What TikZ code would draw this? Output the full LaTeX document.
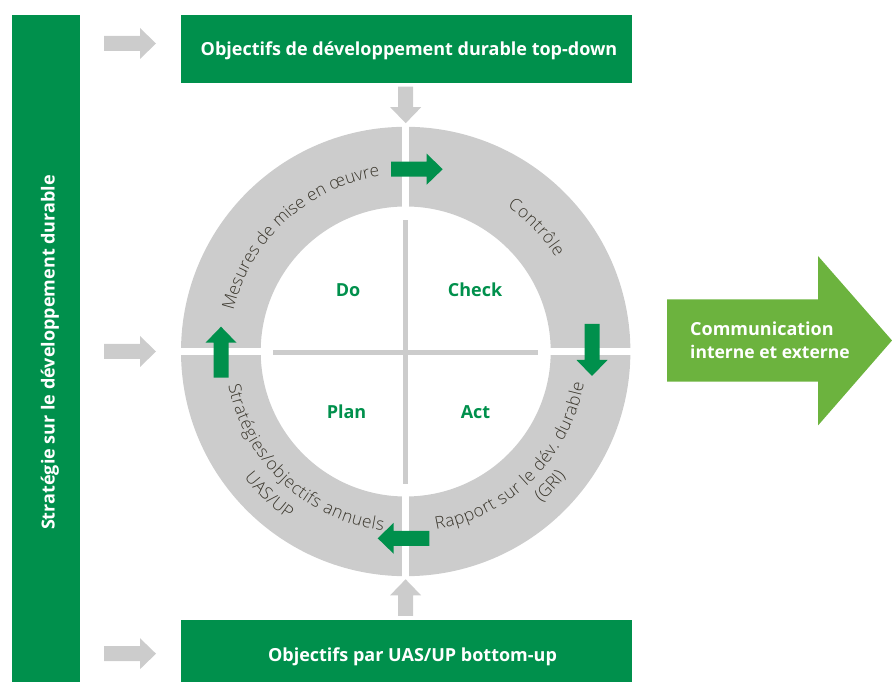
\documentclass[tikz,border=0pt]{standalone}
\usepackage{fontspec}
\setmainfont{Open Sans}
\newfontfamily\curvef{Open Sans Light}
\usetikzlibrary{decorations.text}
\definecolor{mygreen}{RGB}{0,144,76}
\definecolor{ligreen}{RGB}{108,179,62}
\definecolor{mygrey}{RGB}{204,204,204}
\definecolor{curvetxt}{RGB}{58,54,44}
\newcommand\curvefont{\curvef\fontsize{17.2}{18}\selectfont\color{curvetxt}}
\newcommand\boldlab{\fontsize{18}{20}\selectfont\bfseries}
\tikzset{
  box/.style={fill=mygreen,inner sep=0pt,text=white,font=\boldlab},
  whitelab/.style={text=white,font=\boldlab,inner sep=0pt,anchor=base},
  quadlab/.style={text=mygreen,font=\boldlab,inner sep=0pt,anchor=base},
  curved/.style={decorate,decoration={text along path,text={|\curvefont|#1},text align={fit to path}}},
  curvedl/.style={decorate,decoration={text along path,text={|\curvefont|#1},text align={left}}},
  pics/blockarrow/.style={code={
    \fill[pic actions] (0,7.5)--(#1-16,7.5)--(#1-16,15.5)--(#1,0)--(#1-16,-15.5)--(#1-16,-7.5)--(0,-7.5)--cycle;}},
}
\begin{document}
\begin{tikzpicture}[x=1pt,y=1pt]
\useasboundingbox (0,0) rectangle (892,682);
% bars and boxes
\node[box,minimum width=68pt,minimum height=667pt] (strategy) at (46,333.5) {};
\node[whitelab,rotate=90] (strategytext) at (54.7,329.5) {Stratégie sur le développement durable};
\node[box,minimum width=451pt,minimum height=68pt] (top) at (406.5,633) {};
\node[whitelab] (toptext) at (409,626.3) {Objectifs de développement durable top-down};
\node[box,minimum width=451pt,minimum height=62pt] (bottom) at (406,31) {};
\node[whitelab] (bottomtext) at (412.5,20.5) {Objectifs par UAS/UP bottom-up};
% ring
\fill[mygrey,even odd rule] (405.7,330.5) circle[radius=224.7pt] (405.7,330.5) circle[radius=145pt];
\fill[white] (401.7,100) rectangle (409.3,560);
\fill[white] (175,327) rectangle (640,334.3);
% cross
\fill[mygrey] (403.3,198) rectangle (407.7,462);
\fill[mygrey] (273,327.4) rectangle (538,332);
% quadrant labels
\node[quadlab] (do) at (348,385.5) {Do};
\node[quadlab] (check) at (475,385.5) {Check};
\node[quadlab] (plan) at (346.5,263.5) {Plan};
\node[quadlab] (act) at (475.5,263.5) {Act};
% curved labels
\path[curvedl={Mesures de mise en {\oe}uvre}] (405.7,330.5)++(166.6:177pt) arc[start angle=166.6,end angle=60,radius=177pt];
\path[curved={Contrôle}] (405.7,330.5)++(55:177pt) arc[start angle=55,end angle=32,radius=177pt];
\path[curved={Rapport sur le dév. durable}] (405.7,330.5)++(-80.3:181pt) arc[start angle=-80.3,end angle=-10.2,radius=181pt];
\path[curved={(GRI)}] (405.7,330.5)++(-48.2:203pt) arc[start angle=-48.2,end angle=-38,radius=203pt];
\path[curved={Stratégies/objectifs annuels}] (405.7,330.5)++(190.7:180.5pt) arc[start angle=190.7,end angle=262.8,radius=180.5pt];
\path[curved={UAS/UP}] (405.7,330.5)++(218:205pt) arc[start angle=218,end angle=235,radius=205pt];
% grey arrows
\pic[fill=mygrey] at (104,638.5) {blockarrow=52};
\pic[fill=mygrey] at (104,330.5) {blockarrow=52};
\pic[fill=mygrey] at (104,28.3) {blockarrow=52};
\pic[fill=mygrey,rotate=-90] at (405.7,595.3) {blockarrow=36.5};
\pic[fill=mygrey,rotate=90] at (405.6,66) {blockarrow=36.7};
% green arrows
\pic[fill=mygreen] at (391,512.8) {blockarrow=51.7};
\pic[fill=mygreen,rotate=-90] at (592,358) {blockarrow=52};
\pic[fill=mygreen,rotate=180] at (429.3,143.7) {blockarrow=51.6};
\pic[fill=mygreen,rotate=90] at (221,304.3) {blockarrow=51};
% big arrow
\fill[ligreen] (667,382.7)--(818,382.7)--(818,426)--(892,341.5)--(818,256.5)--(818,300.3)--(667,300.3)--cycle;
\node[whitelab,anchor=base west] (comm1) at (690,346.5) {Communication};
\node[whitelab,anchor=base west] (comm2) at (690,323.5) {\fontsize{17.5}{20}\selectfont interne et externe};
\end{tikzpicture}
\end{document}
